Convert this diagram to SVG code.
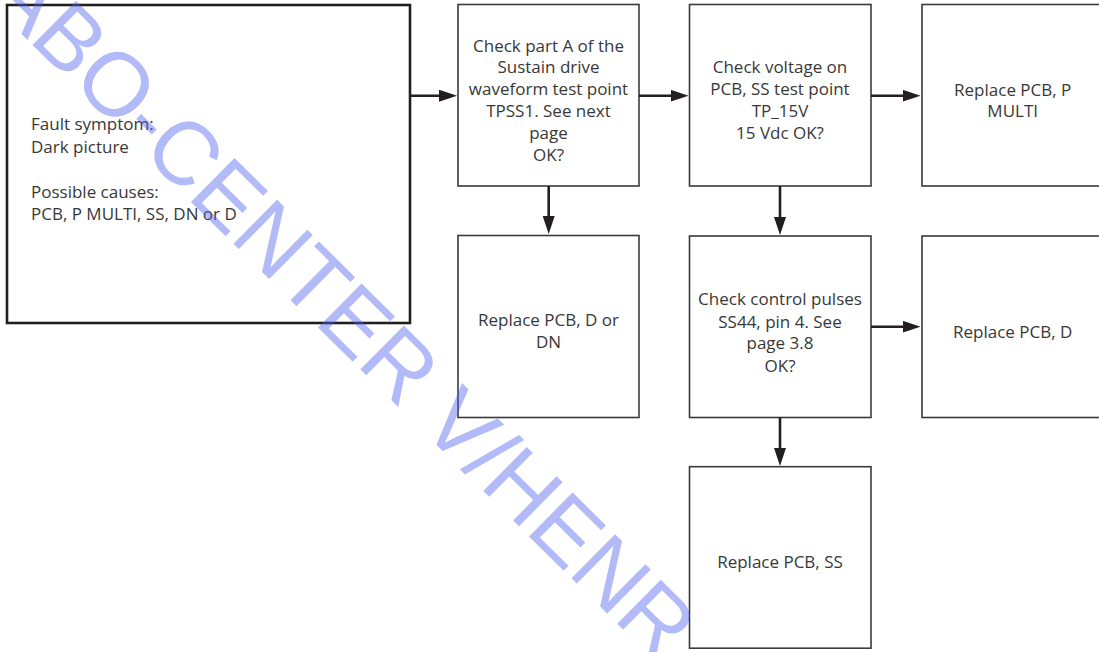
<svg xmlns="http://www.w3.org/2000/svg" width="1099" height="652" viewBox="0 0 1099 652">
  <style>
    .box { fill: #ffffff; stroke: #3a3a3a; stroke-width: 1.6; }
    .main { fill: #ffffff; stroke: #231f20; stroke-width: 2.6; }
    .lbl { font-family: "Open Sans", "Liberation Sans", sans-serif; font-size: 17px; fill: #383838; }
    .c { text-anchor: middle; }
    .wire { stroke: #231f20; stroke-width: 2.6; fill: none; marker-end: url(#arr); }
    .stamp { font-family: "Liberation Sans", Arial, sans-serif; font-size: 90px; letter-spacing: -0.5px; fill: #4a5ff0; opacity: 0.42; }
  </style>
  <defs>
    <marker id="arr" markerWidth="18" markerHeight="12" refX="10" refY="6" orient="auto" markerUnits="userSpaceOnUse">
      <path d="M0,0 L18,6 L0,12 z" fill="#231f20"/>
    </marker>
  </defs>
  <rect width="1099" height="652" fill="#ffffff"/>

  <!-- start node: symptom and possible causes -->
  <g id="symptom">
    <rect class="main" x="7" y="5" width="403" height="318"/>
    <text class="lbl" x="31" y="130">Fault symptom:</text>
    <text class="lbl" x="31" y="153">Dark picture</text>
    <text class="lbl" x="31" y="198">Possible causes:</text>
    <text class="lbl" x="31" y="220">PCB, P MULTI, SS, DN or D</text>
  </g>

  <g id="check-sustain">
    <rect class="box" x="458" y="4.5" width="181" height="181.5"/>
    <text class="lbl c" x="548.5" y="51.5">Check part A of the</text>
    <text class="lbl c" x="548.5" y="73.3">Sustain drive</text>
    <text class="lbl c" x="548.5" y="95.1">waveform test point</text>
    <text class="lbl c" x="548.5" y="116.9">TPSS1. See next</text>
    <text class="lbl c" x="548.5" y="138.7">page</text>
    <text class="lbl c" x="548.5" y="160.5">OK?</text>
  </g>

  <g id="check-voltage">
    <rect class="box" x="689.5" y="4.5" width="181.5" height="181.5"/>
    <text class="lbl c" x="780" y="72.7">Check voltage on</text>
    <text class="lbl c" x="780" y="95">PCB, SS test point</text>
    <text class="lbl c" x="780" y="116.7">TP_15V</text>
    <text class="lbl c" x="780" y="139">15 Vdc OK?</text>
  </g>

  <g id="replace-pmulti">
    <rect class="box" x="922" y="4.5" width="181.5" height="181.5"/>
    <text class="lbl c" x="1012.7" y="95.7">Replace PCB, P</text>
    <text class="lbl c" x="1012.7" y="117.3">MULTI</text>
  </g>

  <g id="replace-d-dn">
    <rect class="box" x="458" y="235.5" width="181" height="182"/>
    <text class="lbl c" x="548.5" y="325.7">Replace PCB, D or</text>
    <text class="lbl c" x="548.5" y="348.3">DN</text>
  </g>

  <g id="check-pulses">
    <rect class="box" x="689.5" y="236" width="181.5" height="181.5"/>
    <text class="lbl c" x="780" y="305">Check control pulses</text>
    <text class="lbl c" x="780" y="327.7">SS44, pin 4. See</text>
    <text class="lbl c" x="780" y="349.3">page 3.8</text>
    <text class="lbl c" x="780" y="371.7">OK?</text>
  </g>

  <g id="replace-d">
    <rect class="box" x="922" y="236" width="181.5" height="181.5"/>
    <text class="lbl c" x="1012.7" y="338.3">Replace PCB, D</text>
  </g>

  <g id="replace-ss">
    <rect class="box" x="689.5" y="466.7" width="181.5" height="181.5"/>
    <text class="lbl c" x="780" y="568.3">Replace PCB, SS</text>
  </g>

  <!-- connectors -->
  <g id="connectors">
    <line class="wire" x1="410" y1="95.7" x2="449" y2="95.7"/>
    <line class="wire" x1="639" y1="95.7" x2="680.5" y2="95.7"/>
    <line class="wire" x1="871" y1="95.7" x2="912.5" y2="95.7"/>
    <line class="wire" x1="548.7" y1="186" x2="548.7" y2="226"/>
    <line class="wire" x1="780" y1="186" x2="780" y2="227"/>
    <line class="wire" x1="871" y1="326.7" x2="912.5" y2="326.7"/>
    <line class="wire" x1="780" y1="417.5" x2="780" y2="458"/>
  </g>

  <!-- diagonal stamp across the sheet -->
  <text class="stamp" transform="translate(-15,-2) rotate(44.7)" x="0" y="0">ABO-CENTER V/HENR</text>
</svg>
